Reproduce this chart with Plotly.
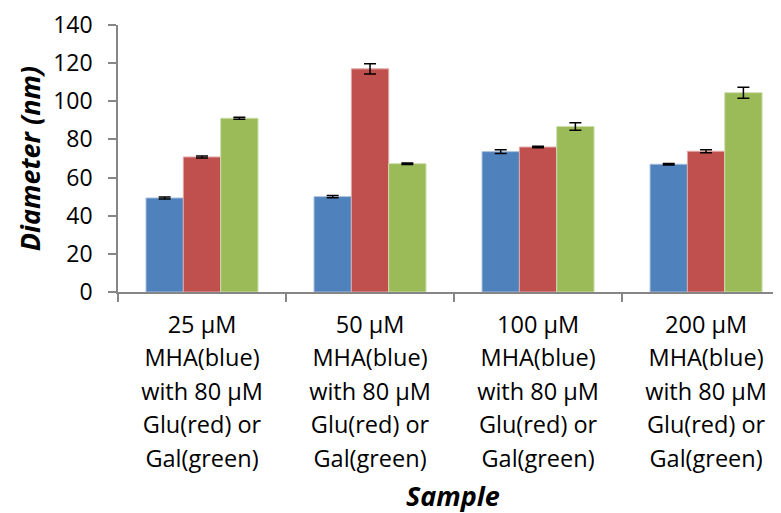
import plotly.graph_objects as go

line_groups = [
    ["25 µM", "MHA(blue)", "with 80 µM", "Glu(red) or", "Gal(green)"],
    ["50 µM", "MHA(blue)", "with 80 µM", "Glu(red) or", "Gal(green)"],
    ["100 µM", "MHA(blue)", "with 80 µM", "Glu(red) or", "Gal(green)"],
    ["200 µM", "MHA(blue)", "with 80 µM", "Glu(red) or", "Gal(green)"],
]
mha_blue = [49.3, 50.0, 73.6, 67.0]
mha_blue_err = [0.5, 0.6, 1.0, 0.4]
glu_red = [70.8, 117.0, 76.0, 73.8]
glu_red_err = [0.5, 2.7, 0.4, 0.8]
gal_green = [91.1, 67.3, 86.8, 104.5]
gal_green_err = [0.5, 0.4, 2.0, 2.9]
y_ticks = [0, 20, 40, 60, 80, 100, 120, 140]

# wider line spacing (from a larger base font) with slightly smaller glyphs
categories = ["<br>".join(f"<span style='font-size:23.5px'>{s}</span>" for s in g)
              for g in line_groups]

series = [
    ("MHA", mha_blue, mha_blue_err, "#4F81BD", "#A7C0DE"),
    ("Glu", glu_red, glu_red_err, "#C0504D", "#E0A8A6"),
    ("Gal", gal_green, gal_green_err, "#9BBB59", "#CDDDAC"),
]

fig = go.Figure()
for name, vals, errs, col, edge in series:
    fig.add_trace(go.Bar(
        x=categories, y=vals, name=name,
        marker=dict(color=col, line=dict(color=edge, width=1)),
        error_y=dict(type="data", array=errs, visible=True,
                     color="black", thickness=1.5, width=6),
    ))

axis_col = "#868686"
fig.update_layout(
    width=773, height=505,
    margin=dict(l=110, r=0, t=15, b=221),
    paper_bgcolor="white", plot_bgcolor="white",
    barmode="group", bargap=1/3, bargroupgap=0,
    showlegend=False,
    font=dict(family="Open Sans", color="black"),
    xaxis=dict(
        type="category", categoryorder="array", categoryarray=categories,
        range=[-0.5, 3.446],
        showline=True, linecolor=axis_col, linewidth=1.5,
        ticks="outside", tickson="boundaries", ticklen=8,
        tickcolor=axis_col, tickwidth=1.5,
        tickfont=dict(size=25.8, family="Open Sans"),
        ticklabelstandoff=8,
        showgrid=False, zeroline=False,
    ),
    yaxis=dict(
        range=[0, 140], tickvals=y_ticks,
        showline=True, linecolor=axis_col, linewidth=1.5,
        ticks="outside", ticklen=8, tickcolor=axis_col, tickwidth=1.5,
        tickfont=dict(size=23, family="Open Sans"),
        ticksuffix="<span style='font-size:15px'>\u2003</span>",
        ticklabelstandoff=11,
        ticklabeloverflow="allow",
        showgrid=False, zeroline=False,
    ),
    annotations=[
        dict(text="<b><i>Sample</i></b>", xref="paper", yref="paper",
             x=0.505, y=-0.762, xanchor="center", yanchor="middle",
             showarrow=False, font=dict(size=27, family="Open Sans")),
        dict(text="<b><i>Diameter (nm)</i></b>", xref="paper", yref="paper",
             x=-0.133, y=0.5, xanchor="center", yanchor="middle",
             textangle=-90, showarrow=False,
             font=dict(size=27, family="Open Sans")),
    ],
)

fig.write_html("out.html")
